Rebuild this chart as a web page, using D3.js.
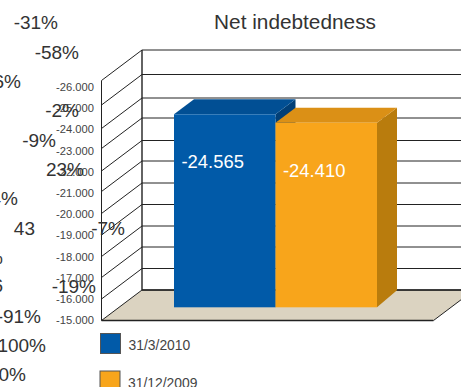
<!DOCTYPE html>
<html>
<head>
<meta charset="utf-8">
<script src="https://cdnjs.cloudflare.com/ajax/libs/d3/7.8.5/d3.min.js"></script>
<style>
  html, body { margin: 0; padding: 0; background: #fff; overflow: hidden; }
  text { font-family: "Liberation Sans", Arial, sans-serif; }
</style>
</head>
<body>
<script>
// Balance-sheet dates and their net indebtedness
const periods = ["31/3/2010", "31/12/2009"];
const netDebt = [-24565, -24410];
const valueLabels = ["-24.565", "-24.410"];
const tickValues = [-15000, -16000, -17000, -18000, -19000, -20000, -21000, -22000, -23000, -24000, -25000, -26000];
const tickLabels = ["-15.000", "-16.000", "-17.000", "-18.000", "-19.000", "-20.000", "-21.000", "-22.000", "-23.000", "-24.000", "-25.000", "-26.000"];
const percentLabels = ["-31%", "-58%", "-26%", "-2%", "-9%", "23%", "4%", "43", "-7%", "6%", "6", "-19%", "-91%", "100%", "0%"];

// Placement of the loose percentage labels: [right edge, baseline]
const percentPlacement = [[58, 29], [79, 59], [21, 88], [79, 117], [56, 147], [84, 176], [18, 205], [35, 235], [125, 235], [3, 264], [3, 292], [96, 293], [41, 323], [46, 352], [26, 381]];

// Screen rows of the grid lines on the front edge of the box, lowest first
const gridRows = [320.5, 299, 277.5, 256.5, 235, 213.5, 191.5, 171, 148.5, 128.5, 105, 80.5];

const width = 461, height = 387;
const fill = { front: ["#015aa8", "#f8a51b"], top: ["#014f94", "#db9016"], side: ["#013f77", "#b97c0d"] };
const inkDark = "#222", inkText = "#444";

const svg = d3.select("body").append("svg").attr("width", width).attr("height", height);

// Box geometry of the 3D plot
const frontX = 101.5, backX = 142, floorFrontRight = 433.5;
const depthX = backX - frontX, depthY = 30.5;

const yGrid = d3.scaleLinear().domain(tickValues).range(gridRows);
const yLabel = d3.scaleLinear().domain([-15000, -26000]).range([320, 87]);

// Bars stand on the floor at their own vertical scale
const floorY = 307.3;
const yBar = d3.scaleLinear().domain([-21060, -24565]).range([307, 114.3]);
const xBar = d3.scaleBand().domain(periods).range([174, 377]).padding(0);
const barDepthX = 20, barDepthTop = 15, barDepthBase = 17;

const floorFront = yGrid(-15000), floorBack = floorFront - depthY;

// Floor
const floorPath = d3.path();
floorPath.moveTo(frontX, floorFront);
floorPath.lineTo(backX, floorBack);
floorPath.lineTo(floorFrontRight + depthX, floorBack);
floorPath.lineTo(floorFrontRight, floorFront);
floorPath.closePath();
svg.append("path").attr("d", floorPath.toString()).attr("fill", "#dbd3c1");

// Grid lines: back wall plus the slanted run to the axis
const grid = svg.append("g").attr("fill", "none").attr("stroke", inkDark).attr("stroke-width", 1);
tickValues.forEach(v => {
  const y = yGrid(v);
  const p = d3.path();
  p.moveTo(frontX, y);
  p.lineTo(backX, y - depthY);
  p.lineTo(width, y - depthY);
  grid.append("path").attr("d", p.toString());
});
grid.append("line").attr("x1", frontX).attr("x2", frontX)
  .attr("y1", yGrid(-26000)).attr("y2", floorFront);
grid.append("line").attr("x1", backX).attr("x2", backX)
  .attr("y1", yGrid(-26000) - depthY).attr("y2", floorBack).attr("stroke-width", 1.4);
grid.append("line").attr("x1", backX).attr("x2", width)
  .attr("y1", floorBack).attr("y2", floorBack).attr("stroke-width", 1.6);
grid.append("line").attr("x1", frontX).attr("x2", floorFrontRight)
  .attr("y1", floorFront).attr("y2", floorFront).attr("stroke-width", 1.4);
grid.append("line").attr("x1", floorFrontRight).attr("x2", floorFrontRight + depthX)
  .attr("y1", floorFront).attr("y2", floorBack);

// Value axis
const axis = d3.axisLeft(yLabel).tickValues(tickValues).tickSize(0).tickPadding(0)
  .tickFormat((d, i) => tickLabels[i]);
const axisG = svg.append("g").attr("transform", "translate(94,0)").call(axis);
axisG.select(".domain").remove();
axisG.selectAll("text").attr("font-size", 11.2).attr("fill", inkText)
  .style("font-family", '"Liberation Sans", Arial, sans-serif');

// Bars: side, top and front faces
const bars = svg.append("g").selectAll("g").data(periods).join("g");
bars.append("path").attr("fill", (d, i) => fill.side[i]).attr("d", (d, i) => {
  const x = xBar(d) + xBar.bandwidth(), t = yBar(netDebt[i]);
  return `M${x},${t}L${x + barDepthX},${t - barDepthTop}L${x + barDepthX},${floorY - barDepthBase}L${x},${floorY}Z`;
});
bars.append("path").attr("fill", (d, i) => fill.top[i]).attr("d", (d, i) => {
  const x = xBar(d), w = xBar.bandwidth(), t = yBar(netDebt[i]);
  return `M${x},${t}L${x + barDepthX},${t - barDepthTop}L${x + w + barDepthX},${t - barDepthTop}L${x + w},${t}Z`;
});
bars.append("rect").attr("fill", (d, i) => fill.front[i])
  .attr("x", d => xBar(d)).attr("width", xBar.bandwidth())
  .attr("y", (d, i) => yBar(netDebt[i]))
  .attr("height", (d, i) => floorY - yBar(netDebt[i]));
bars.append("text").attr("fill", "#fff").attr("font-size", 18.4)
  .attr("x", d => xBar(d) + 7.5).attr("y", (d, i) => yBar(netDebt[i]) + 54)
  .text((d, i) => valueLabels[i]);

// Title
svg.append("text").attr("x", 295).attr("y", 28.5).attr("text-anchor", "middle")
  .attr("font-size", 20.8).attr("fill", "#333").text("Net indebtedness");

// Legend
const legend = svg.append("g").selectAll("g").data(periods).join("g")
  .attr("transform", (d, i) => `translate(${100.5 - i * 0.5},${333.5 + i * 37.5})`);
legend.append("rect").attr("width", 20).attr("height", 20)
  .attr("fill", (d, i) => fill.front[i]).attr("stroke", "#555").attr("stroke-width", 1);
legend.append("text").attr("x", 28).attr("y", 16.5).attr("font-size", 13.9)
  .attr("fill", inkText).text(d => d);

// Loose percentage labels
svg.append("g").selectAll("text").data(percentLabels).join("text")
  .attr("text-anchor", "end").attr("font-size", 19).attr("fill", "#333")
  .attr("x", (d, i) => percentPlacement[i][0]).attr("y", (d, i) => percentPlacement[i][1])
  .text(d => d);
</script>
</body>
</html>
